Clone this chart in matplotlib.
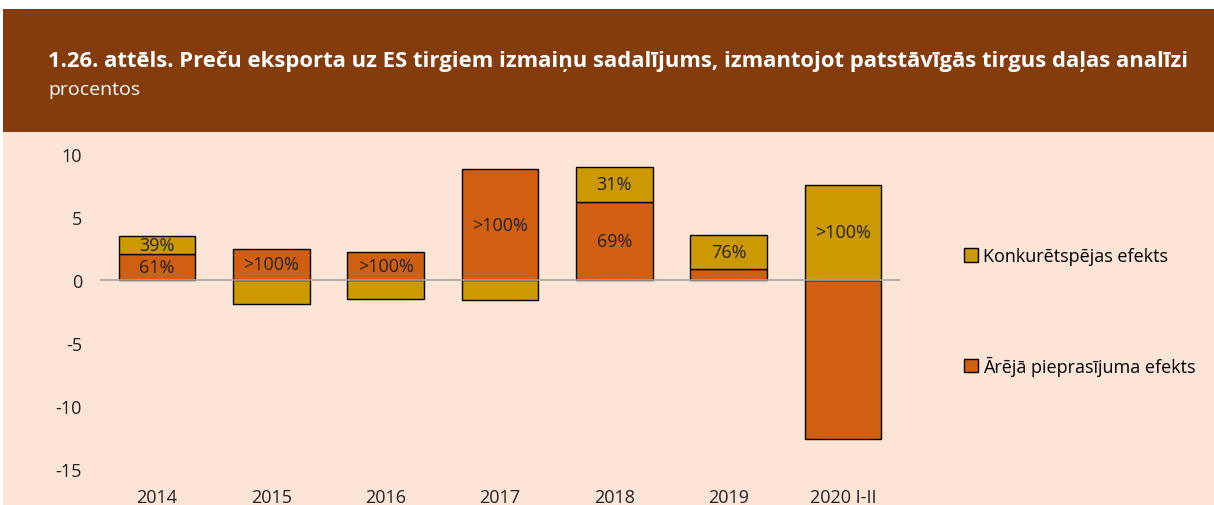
import matplotlib
matplotlib.use("Agg")
import matplotlib.pyplot as plt
from matplotlib.patches import Rectangle

plt.rcParams["font.family"] = ["Open Sans", "DejaVu Sans"]
plt.rcParams["axes.unicode_minus"] = False

# --- données ---
categories = ["2014", "2015", "2016", "2017", "2018", "2019", "2020 I-II"]
arejais = [2.1, 2.5, 2.2, 8.8, 6.2, 0.85, -12.6]       # Ārējā pieprasījuma efekts
konkur = [1.4, -1.9, -1.5, -1.6, 2.8, 2.75, 7.55]      # Konkurētspējas efekts
arejais_labels = ["61%", ">100%", ">100%", ">100%", "69%", "", ""]
konkur_labels = ["39%", "", "", "", "31%", "76%", ">100%"]

c_orange = "#D15F12"
c_gold = "#CC9A00"
c_brown = "#843C0C"
c_peach = "#FCE4D6"

fig = plt.figure(figsize=(12.14, 5.06), dpi=100)
fig.patch.set_facecolor("white")

# fond et bandeau
fig.add_artist(Rectangle((3 / 1214, 0), 1, 1 - 133 / 506, transform=fig.transFigure,
                         facecolor=c_peach, edgecolor="none", zorder=0))
fig.add_artist(Rectangle((3 / 1214, 1 - 133 / 506), 1, 123 / 506, transform=fig.transFigure,
                         facecolor=c_brown, edgecolor="none", zorder=0))
fig.text(48 / 1214, 1 - 61 / 506,
         "1.26. attēls. Preču eksporta uz ES tirgiem izmaiņu sadalījums, izmantojot patstāvīgās tirgus daļas analīzi",
         color="white", fontsize=15.8, fontweight="bold", va="center", ha="left")
fig.text(48 / 1214, 1 - 90 / 506, "procentos", color="white", fontsize=14, va="center", ha="left")

ax = fig.add_axes([100 / 1214, 1 - 470 / 506, 800 / 1214, 315 / 506])
ax.set_facecolor("none")

x = list(range(len(categories)))
bottom_k = [a if (a >= 0) == (k >= 0) else 0 for a, k in zip(arejais, konkur)]

b1 = ax.bar(x, arejais, width=0.67, color=c_orange, edgecolor="black", linewidth=1,
            label="Ārējā pieprasījuma efekts", zorder=2)
b2 = ax.bar(x, konkur, width=0.67, bottom=bottom_k, color=c_gold, edgecolor="black", linewidth=1,
            label="Konkurētspējas efekts", zorder=2)

ax.bar_label(b1, labels=arejais_labels, label_type="center", fontsize=13, color="#222222")
ax.bar_label(b2, labels=konkur_labels, label_type="center", fontsize=13, color="#222222")

ax.axhline(0, color="#A6A6A6", linewidth=1.2, zorder=3)

ax.set_xlim(-0.5, 6.5)
ax.set_ylim(-15, 10)
ax.set_yticks([10, 5, 0, -5, -10, -15])
ax.set_xticks(x)
ax.set_xticklabels(categories)
ax.tick_params(length=0, labelsize=13, colors="#222222")
ax.tick_params(axis="y", pad=13)
ax.tick_params(axis="x", pad=14)
for s in ax.spines.values():
    s.set_visible(False)

# légende
handles = [b2, b1]
leg = fig.legend(handles, [h.get_label() for h in handles], loc="upper left",
                 bbox_to_anchor=(948 / 1214, 1 - 232 / 506), frameon=False, fontsize=13,
                 labelspacing=5.0, handlelength=0.75, handleheight=0.75, handletextpad=0.3)

fig.savefig("out.png", dpi=100)
